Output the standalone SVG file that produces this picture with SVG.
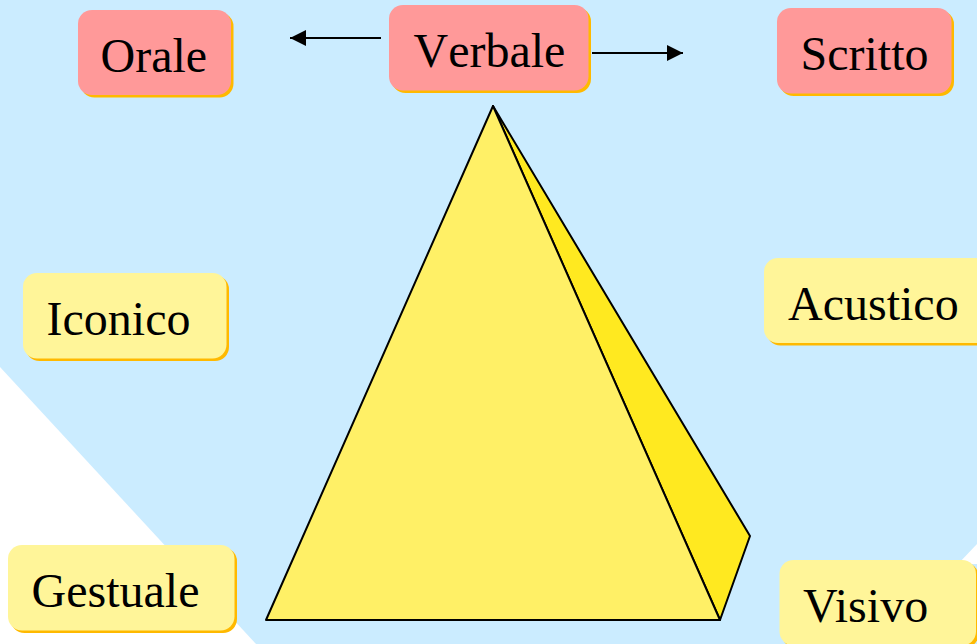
<svg xmlns="http://www.w3.org/2000/svg" width="977" height="644" viewBox="0 0 977 644">
<style>
.s{fill:#ffb900}
.r{fill:#ff9999}
.y{fill:#fff599}
text{font-family:"Liberation Serif","Times New Roman",serif;font-size:48px;fill:#000;font-kerning:none}
.c{stroke:#000;stroke-width:2;fill:none}
.p{stroke:#000;stroke-width:2;stroke-linejoin:round}
</style>
<defs>
<marker id="a" markerUnits="userSpaceOnUse" markerWidth="16" markerHeight="16" refX="16" refY="8" orient="auto"><path d="M0 0L16 8L0 16Z" fill="#000"/></marker>
</defs>
<rect width="977" height="644" fill="#cbecff"/>
<path d="M0 367L256 644H0Z" fill="#fff"/>
<path d="M977 544L958 564H977Z" fill="#fff"/>
<g id="pyramid">
<path class="p" d="M493 106L750 536L720 620Z" fill="#ffe920"/>
<path class="p" d="M493 106L720 620H266Z" fill="#fff066"/>
</g>
<g id="connectors">
<path class="c" d="M381 38H290" marker-end="url(#a)"/>
<path class="c" d="M592 53H683" marker-end="url(#a)"/>
</g>
<g id="orale"><rect class="s" x="80.500" y="12.500" width="153" height="85" rx="14"/><rect class="r" x="78" y="10" width="153" height="85" rx="14"/><text x="100.500" y="72">Orale</text></g>
<g id="verbale"><rect class="s" x="391.500" y="7.500" width="199.500" height="85.500" rx="14"/><rect class="r" x="389" y="5" width="199.500" height="85.500" rx="14"/><text x="413.500" y="67">Verbale</text></g>
<g id="scritto"><rect class="s" x="779.500" y="10.500" width="174.500" height="85.500" rx="14"/><rect class="r" x="777" y="8" width="174.500" height="85.500" rx="14"/><text x="800.500" y="70">Scritto</text></g>
<g id="iconico"><rect class="s" x="25.500" y="275.500" width="203.500" height="85.500" rx="14"/><rect class="y" x="23" y="273" width="203.500" height="85.500" rx="14"/><text x="46.500" y="335">Iconico</text></g>
<g id="acustico"><rect class="s" x="766.500" y="260.500" width="230" height="85" rx="14"/><rect class="y" x="764" y="258" width="230" height="85" rx="14"/><text x="788" y="320">Acustico</text></g>
<g id="gestuale"><rect class="s" x="10.500" y="547.500" width="226.500" height="85.500" rx="14"/><rect class="y" x="8" y="545" width="226.500" height="85.500" rx="14"/><text x="31.500" y="607">Gestuale</text></g>
<g id="visivo"><rect class="s" x="782" y="562.500" width="196.500" height="85.500" rx="14"/><rect class="y" x="779.500" y="560" width="196.500" height="85.500" rx="14"/><text x="803" y="622" style="font-kerning:normal">Visivo</text></g>
</svg>
